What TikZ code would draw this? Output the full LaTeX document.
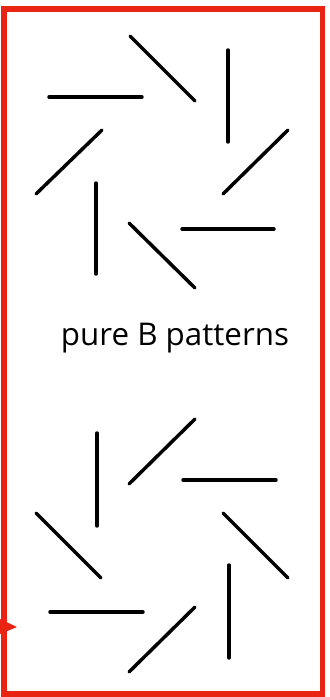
\documentclass[tikz,border=0pt]{standalone}
\usepackage{fontspec}
\setmainfont{Open Sans}
\definecolor{framered}{RGB}{234,36,18}
\begin{document}
\begin{tikzpicture}[x=0.75pt, y=-0.75pt, bar/.style={line width=2.6pt, line cap=round}, every node/.style={font=\fontsize{23.5}{28}\selectfont}]
    \useasboundingbox (0,0) rectangle (329,697);
    \draw[framered, line width=3.8pt] (4,9) rectangle (322.5,694);
    \fill[framered] (0,619) -- (17,627) -- (0,634) -- cycle;

    % upper pinwheel
    \draw[bar] (49,97) -- (142,97);
    \draw[bar] (130,36) -- (195,101);
    \draw[bar] (228,50) -- (228,142);
    \draw[bar] (36,194) -- (102,130);
    \draw[bar] (223,194) -- (288,130);
    \draw[bar] (96,183) -- (96,274);
    \draw[bar] (129,223) -- (195,288);
    \draw[bar] (182,229) -- (274,229);

    \node[anchor=base, inner sep=0pt] (label) at (175,345) {pure B patterns};

    % lower pinwheel
    \draw[bar] (97,433) -- (97,526);
    \draw[bar] (129,484) -- (195,419);
    \draw[bar] (183,480) -- (276,480);
    \draw[bar] (36,513) -- (101,578);
    \draw[bar] (223,513) -- (288,578);
    \draw[bar] (229,565) -- (229,658);
    \draw[bar] (50,612) -- (143,612);
    \draw[bar] (129,672) -- (195,607);
\end{tikzpicture}
\end{document}
